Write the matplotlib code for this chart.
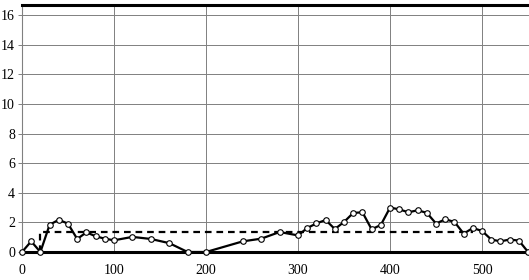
import matplotlib
matplotlib.use("Agg")
import matplotlib.pyplot as plt

# measured series (x step ~10)
xs = [0, 10, 20, 30, 40, 50, 60, 70, 80, 90, 100, 120, 140, 160, 180, 200,
      240, 260, 280, 300, 310, 320, 330, 340, 350, 360, 370, 380, 390, 400,
      410, 420, 430, 440, 450, 460, 470, 480, 490, 500, 510, 520, 530, 540, 550]
ys = [0, 0.72, 0, 1.84, 2.18, 1.91, 0.88, 1.33, 1.06, 0.90, 0.79, 1.02, 0.88, 0.60, 0, 0,
      0.72, 0.90, 1.35, 1.12, 1.62, 1.93, 2.16, 1.55, 2.03, 2.64, 2.68, 1.53, 1.83, 3.00,
      2.88, 2.68, 2.82, 2.64, 1.92, 2.21, 2.03, 1.24, 1.62, 1.42, 0.84, 0.72, 0.84, 0.77, 0]

# dashed mean level
mean_x = [20, 20, 490]
mean_y = [0, 1.35, 1.35]

x_ticks = [0, 100, 200, 300, 400, 500]
y_ticks = [0, 2, 4, 6, 8, 10, 12, 14, 16]

plt.rcParams['font.family'] = ['Liberation Serif', 'DejaVu Serif']

fig = plt.figure(figsize=(5.29, 2.80), dpi=100)
ax = fig.add_axes([22 / 529, 28 / 280, 507 / 529, 247 / 280])

ax.grid(True, color='#808080', linewidth=0.7)
ax.set_axisbelow(True)

ax.plot(mean_x, mean_y, color='black', linestyle=(0, (3, 2.2)), linewidth=1.6, zorder=3)
ax.plot(xs, ys, color='black', linewidth=1.6, marker='o', markersize=4,
        markerfacecolor='white', markeredgecolor='black', markeredgewidth=0.8,
        clip_on=False, zorder=4)

ax.set_xlim(0, 551)
ax.set_ylim(0, 16.68)
ax.set_xticks(x_ticks)
ax.set_yticks(y_ticks)

ax.spines['bottom'].set_linewidth(2.2)
ax.spines['top'].set_linewidth(2.2)
ax.spines['left'].set_color('#808080')
ax.spines['left'].set_linewidth(0.8)
ax.spines['right'].set_visible(False)

ax.tick_params(axis='y', length=3, width=0.7, color='#808080', pad=2, labelsize=10)
ax.tick_params(axis='x', length=0, pad=9, labelsize=10)

fig.savefig('out.png', dpi=100)
